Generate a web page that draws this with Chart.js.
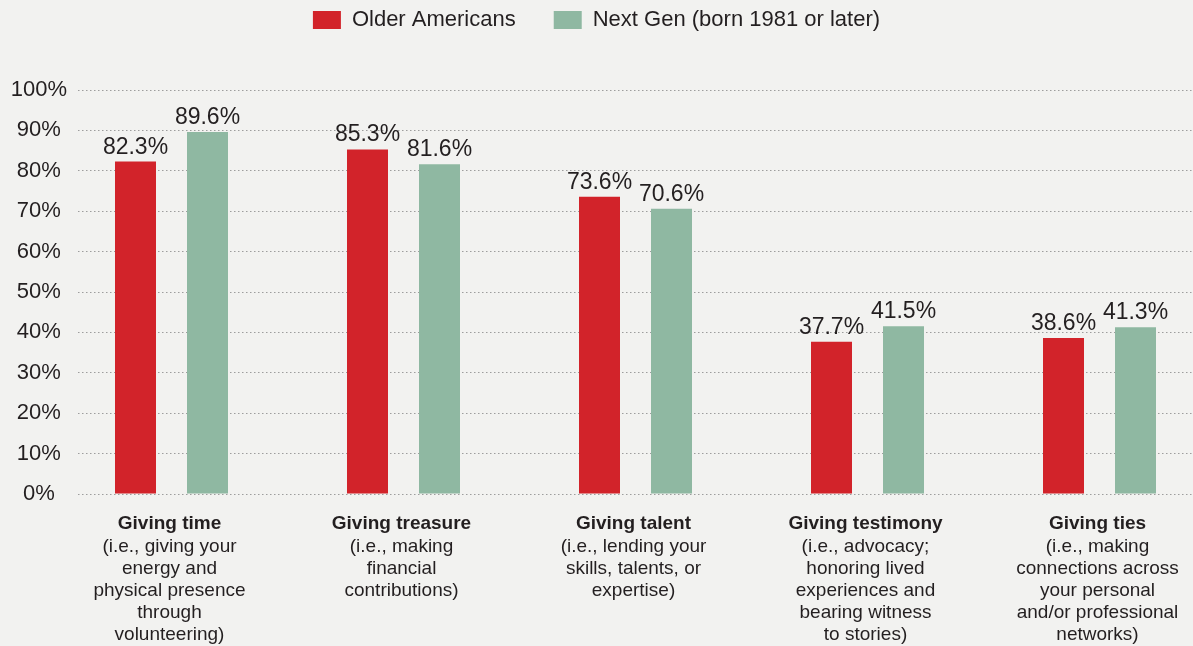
<!DOCTYPE html>
<html>
<head>
<meta charset="utf-8">
<title>Ways of giving</title>
<script src="https://cdn.jsdelivr.net/npm/chart.js@4.4.1/dist/chart.umd.min.js"></script>
<style>
  html, body { margin: 0; padding: 0; background: #f2f2f0; }
  #wrap { width: 1193px; height: 646px; }
</style>
</head>
<body>
<div id="wrap"><canvas id="givingChart" width="1193" height="646"></canvas></div>
<script>
const categoryTitles = ['Giving time', 'Giving treasure', 'Giving talent', 'Giving testimony', 'Giving ties'];
const categoryNotes = [
    ['(i.e., giving your', 'energy and', 'physical presence', 'through', 'volunteering)'],
    ['(i.e., making', 'financial', 'contributions)'],
    ['(i.e., lending your', 'skills, talents, or', 'expertise)'],
    ['(i.e., advocacy;', 'honoring lived', 'experiences and', 'bearing witness', 'to stories)'],
    ['(i.e., making', 'connections across', 'your personal', 'and/or professional', 'networks)']
];
const seriesNames = ['Older Americans', 'Next Gen (born 1981 or later)'];
const olderAmericans = [82.3, 85.3, 73.6, 37.7, 38.6];
const nextGen = [89.6, 81.6, 70.6, 41.5, 41.3];
const yTickValues = [0, 10, 20, 30, 40, 50, 60, 70, 80, 90, 100];

const TEXT = '#231f20';
const RED = '#d2232a';
const GREEN = '#8fb8a2';
const NUM_FONT = '"Liberation Sans", Arial, sans-serif';

const toPoints = (arr) => arr.map((v, i) => ({ x: i, y: v }));

// value labels above every bar
const valueLabels = {
    id: 'valueLabels',
    afterDatasetsDraw(chart) {
        const ctx = chart.ctx;
        ctx.save();
        ctx.font = '23px ' + NUM_FONT;
        ctx.fillStyle = TEXT;
        ctx.textAlign = 'center';
        ctx.textBaseline = 'alphabetic';
        chart.data.datasets.forEach((ds, di) => {
            chart.getDatasetMeta(di).data.forEach((bar, i) => {
                ctx.fillText(ds.data[i].y.toFixed(1) + '%', bar.x, bar.y - 8);
            });
        });
        ctx.restore();
    }
};

// category names (bold) with their notes underneath
const categoryLabels = {
    id: 'categoryLabels',
    afterDraw(chart) {
        const ctx = chart.ctx;
        const xScale = chart.scales.x;
        const top = chart.chartArea.bottom + 30;
        ctx.save();
        ctx.fillStyle = TEXT;
        ctx.textAlign = 'center';
        ctx.textBaseline = 'middle';
        categoryTitles.forEach((title, i) => {
            const x = xScale.getPixelForValue(i) - 2;
            ctx.font = 'bold 19px "Liberation Sans", Arial, sans-serif';
            ctx.fillText(title, x, top);
            ctx.font = '19px "Liberation Sans", Arial, sans-serif';
            categoryNotes[i].forEach((line, j) => {
                ctx.fillText(line, x, top + 23 + j * 22);
            });
        });
        ctx.restore();
    }
};

new Chart(document.getElementById('givingChart'), {
    type: 'bar',
    data: {
        datasets: [
            { label: seriesNames[0], data: toPoints(olderAmericans), backgroundColor: RED },
            { label: seriesNames[1], data: toPoints(nextGen), backgroundColor: GREEN }
        ]
    },
    options: {
        responsive: false,
        animation: false,
        categoryPercentage: 0.6207,
        barPercentage: 0.5694,
        // legend padding also pads vertically, so pull the whole top band up
        layout: { padding: { top: -29, right: 0, bottom: 0, left: 0 } },
        plugins: {
            tooltip: { enabled: false },
            legend: {
                position: 'top',
                labels: {
                    color: TEXT,
                    font: { family: NUM_FONT, size: 22 },
                    boxWidth: 28,
                    boxHeight: 18,
                    padding: 38
                }
            },
            // empty title sits under the legend as a spacer
            title: {
                display: true,
                text: '',
                weight: 500,
                font: { size: 1, lineHeight: 1 },
                padding: { top: 0, bottom: 48 }
            }
        },
        scales: {
            x: {
                type: 'linear',
                offset: false,
                min: -0.403,
                max: 4.403,
                afterBuildTicks: (scale) => { scale.ticks = categoryTitles.map((t, i) => ({ value: i })); },
                afterFit: (scale) => { scale.height = 152; },
                grid: { display: false, offset: false },
                border: { display: false },
                ticks: { display: false }
            },
            y: {
                min: 0,
                max: 100,
                afterBuildTicks: (scale) => { scale.ticks = yTickValues.map(v => ({ value: v })); },
                afterFit: (scale) => { scale.width = 78; },
                grid: { color: '#9d9d9d', lineWidth: 1, drawTicks: false },
                border: { display: false, dash: [1.5, 2.5] },
                ticks: {
                    color: TEXT,
                    font: { family: NUM_FONT, size: 22 },
                    padding: 11,
                    crossAlign: 'center',
                    callback: (v) => v + '%'
                }
            }
        }
    },
    plugins: [valueLabels, categoryLabels]
});
</script>
</body>
</html>
